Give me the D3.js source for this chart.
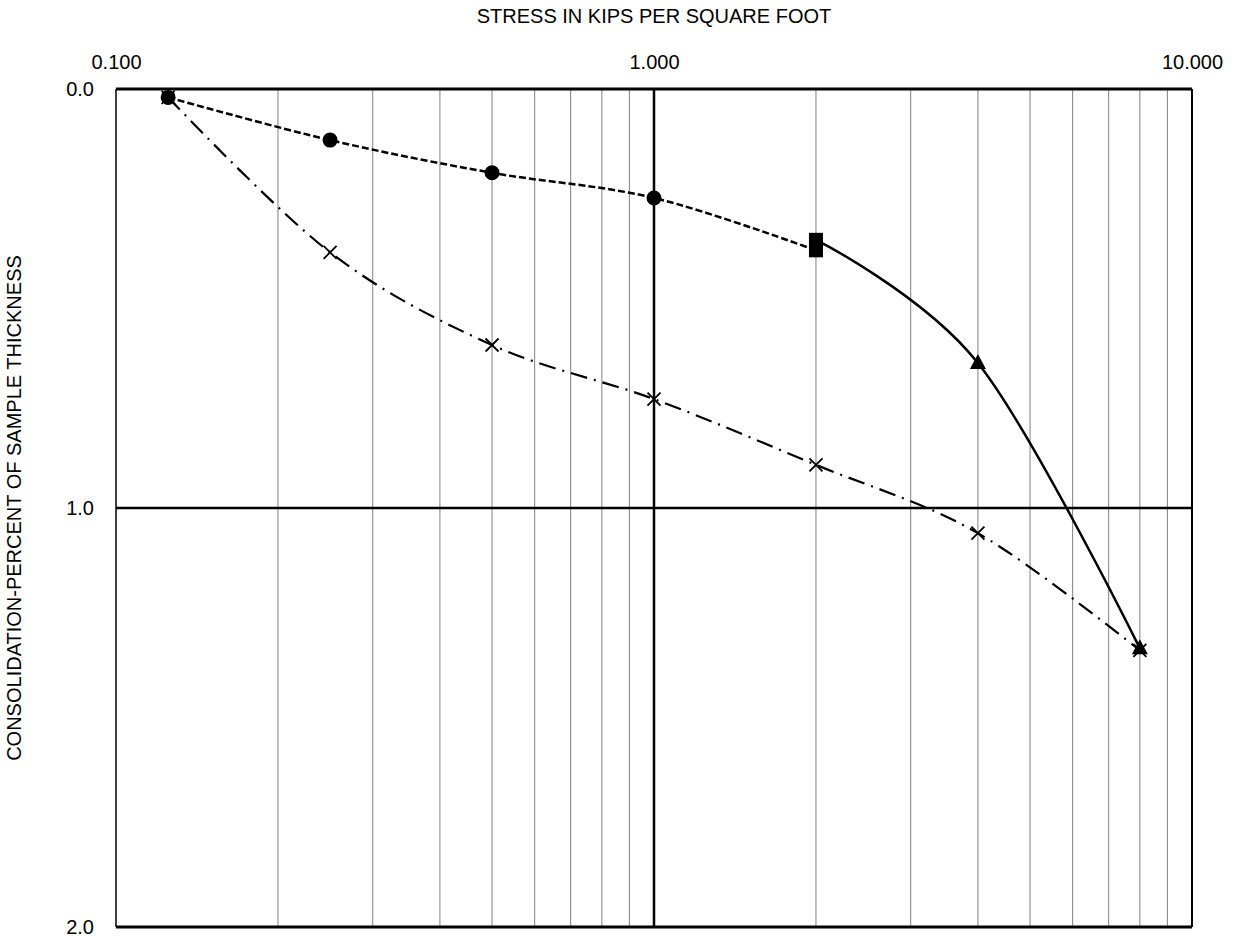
<!DOCTYPE html>
<html>
<head>
<meta charset="utf-8">
<script src="https://cdn.jsdelivr.net/npm/d3@7"></script>
<style>
  body { margin: 0; background: #fff; }
  text { font-family: "Liberation Sans", Arial, sans-serif; fill: #000; }
</style>
</head>
<body>
<svg id="chart"></svg>
<script>
// Stress (ksf) at each load increment
const stressLoad = [0.125, 0.25, 0.5, 1, 2];
const consolLoad = [0.02, 0.122, 0.20, 0.26, 0.385];

const stressVirgin = [2, 4, 8];
const consolVirgin = [0.36, 0.654, 1.335];

const stressAll = [0.125, 0.25, 0.5, 1, 2, 4, 8];
const consolAll = [0.02, 0.39, 0.611, 0.74, 0.897, 1.06, 1.34];

const xTickValues = [0.1, 1, 10];
const yTickValues = [0, 1, 2];

const width = 1233, height = 940;
const margin = { top: 89, right: 41, bottom: 13, left: 116 };
const fontSize = 20;

const svg = d3.select("#chart").attr("width", width).attr("height", height);

const x = d3.scaleLog().domain([0.1, 10]).range([margin.left, width - margin.right]);
const y = d3.scaleLinear().domain([0, 2]).range([margin.top, height - margin.bottom]);

const isDecade = d => Math.abs(Math.log10(d) % 1) < 1e-9;

// vertical gridlines (minor grey, decade black)
svg.append("g")
  .selectAll("line")
  .data(x.ticks().filter(d => d > 0.1 && d < 10))
  .join("line")
  .attr("x1", d => x(d)).attr("x2", d => x(d))
  .attr("y1", y(0)).attr("y2", y(2))
  .attr("stroke", d => isDecade(d) ? "#000" : "#808080")
  .attr("stroke-width", d => isDecade(d) ? 2.5 : 1);

// horizontal gridline at 1.0
svg.append("line")
  .attr("x1", x(0.1)).attr("x2", x(10))
  .attr("y1", y(1)).attr("y2", y(1))
  .attr("stroke", "#000").attr("stroke-width", 2.5);

// frame
svg.append("line").attr("x1", x(0.1)).attr("x2", x(10)).attr("y1", y(0)).attr("y2", y(0))
  .attr("stroke", "#000").attr("stroke-width", 3);
svg.append("line").attr("x1", x(0.1)).attr("x2", x(10)).attr("y1", y(2)).attr("y2", y(2))
  .attr("stroke", "#000").attr("stroke-width", 3);
svg.append("line").attr("x1", x(0.1)).attr("x2", x(0.1)).attr("y1", y(0)).attr("y2", y(2))
  .attr("stroke", "#000").attr("stroke-width", 1.5);
svg.append("line").attr("x1", x(10)).attr("x2", x(10)).attr("y1", y(0)).attr("y2", y(2))
  .attr("stroke", "#000").attr("stroke-width", 2);

// axes
const xAxis = svg.append("g")
  .attr("transform", `translate(0,${y(0) - 17})`)
  .call(d3.axisTop(x).tickValues(xTickValues).tickFormat(d3.format(".3f")).tickSize(0));
xAxis.select(".domain").remove();
xAxis.selectAll("text").attr("font-size", fontSize).attr("font-family", "Liberation Sans, Arial, sans-serif");

const yAxis = svg.append("g")
  .attr("transform", `translate(${x(0.1) - 19},0)`)
  .call(d3.axisLeft(y).tickValues(yTickValues).tickFormat(d3.format(".1f")).tickSize(0));
yAxis.select(".domain").remove();
yAxis.selectAll("text").attr("font-size", fontSize).attr("font-family", "Liberation Sans, Arial, sans-serif");

// titles
svg.append("text")
  .attr("x", (x(0.1) + x(10)) / 2).attr("y", 23)
  .attr("text-anchor", "middle").attr("font-size", fontSize)
  .text("STRESS IN KIPS PER SQUARE FOOT");

svg.append("text")
  .attr("transform", `translate(21,${(y(0) + y(2)) / 2}) rotate(-90)`)
  .attr("text-anchor", "middle").attr("font-size", fontSize)
  .text("CONSOLIDATION-PERCENT OF SAMPLE THICKNESS");

const line = d3.line()
  .x(d => x(d[0])).y(d => y(d[1]))
  .curve(d3.curveCardinal.tension(0));

const loadPts = d3.zip(stressLoad, consolLoad);
const virginPts = d3.zip(stressVirgin, consolVirgin);
const allPts = d3.zip(stressAll, consolAll);

// dash-dot series with x markers
svg.append("path").datum(allPts)
  .attr("d", line).attr("fill", "none")
  .attr("stroke", "#000").attr("stroke-width", 2.2)
  .attr("stroke-dasharray", "17,7,2,7");

svg.append("g").selectAll("path")
  .data(allPts)
  .join("path")
  .attr("d", d => {
    const cx = x(d[0]), cy = y(d[1]), s = 6.5;
    return `M${cx - s},${cy - s}L${cx + s},${cy + s}M${cx - s},${cy + s}L${cx + s},${cy - s}`;
  })
  .attr("stroke", "#000").attr("stroke-width", 1.8).attr("fill", "none");

// dashed series
svg.append("path").datum(loadPts)
  .attr("d", line).attr("fill", "none")
  .attr("stroke", "#000").attr("stroke-width", 2.5)
  .attr("stroke-dasharray", "7,3");

// solid series
svg.append("path").datum(virginPts)
  .attr("d", line).attr("fill", "none")
  .attr("stroke", "#000").attr("stroke-width", 2.5);

// circle markers (dashed series, before the square)
svg.append("g").selectAll("circle")
  .data(loadPts.slice(0, -1))
  .join("circle")
  .attr("cx", d => x(d[0])).attr("cy", d => y(d[1])).attr("r", 7.5)
  .attr("fill", "#000");

// square markers where dashed and solid meet
svg.append("g").selectAll("rect")
  .data([loadPts[loadPts.length - 1], virginPts[0]])
  .join("rect")
  .attr("x", d => x(d[0]) - 7).attr("y", d => y(d[1]) - 7)
  .attr("width", 14).attr("height", 14)
  .attr("fill", "#000");

// triangle markers
svg.append("g").selectAll("path.tri")
  .data(virginPts.slice(1))
  .join("path")
  .attr("class", "tri")
  .attr("d", d => {
    const cx = x(d[0]), cy = y(d[1]);
    return `M${cx},${cy - 9}L${cx + 8},${cy + 6}L${cx - 8},${cy + 6}Z`;
  })
  .attr("fill", "#000");
</script>
</body>
</html>
